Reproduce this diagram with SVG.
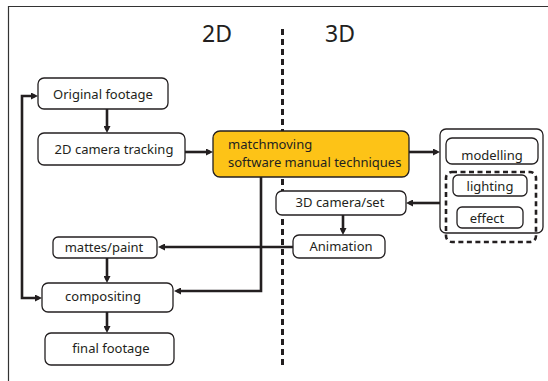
<svg xmlns="http://www.w3.org/2000/svg" width="548" height="381" viewBox="0 0 548 381">
  <defs>
    <marker id="arr" viewBox="0 0 7 7" refX="4" refY="3.5" markerWidth="7" markerHeight="7" markerUnits="userSpaceOnUse" orient="auto-start-reverse">
      <path d="M0,0 L7,3.5 L0,7 z" fill="#231f20"/>
    </marker>
    <style>
      .box { fill: #ffffff; stroke: #231f20; stroke-width: 1.3; }
      .hl { fill: #fdc317; stroke: #231f20; stroke-width: 1.3; }
      .t { font-family: "Noto Sans", "Liberation Sans", sans-serif; font-size: 13px; fill: #231f20; text-anchor: middle; }
      .tl { font-family: "Noto Sans", "Liberation Sans", sans-serif; font-size: 13px; fill: #231f20; }
      .h { font-family: "Noto Sans", "Liberation Sans", sans-serif; font-size: 23px; fill: #231f20; text-anchor: middle; }
      .c { fill: none; stroke: #231f20; stroke-width: 2.6; marker-end: url(#arr); }
      .dash { fill: none; stroke: #231f20; stroke-width: 3; stroke-dasharray: 6 4; }
    </style>
  </defs>
  <rect width="548" height="381" fill="#ffffff"/>
  <!-- frame -->
  <path d="M8.5 381 V6.5 H548" fill="none" stroke="#333" stroke-width="1.2"/>
  <!-- headings and divider -->
  <text class="h" x="217" y="42">2D</text>
  <text class="h" x="340" y="42">3D</text>
  <line class="dash" x1="282.5" y1="29" x2="282.5" y2="366"/>

  <g id="connectors">
    <line class="c" x1="107" y1="109" x2="107" y2="130"/>
    <line class="c" x1="185" y1="152" x2="210" y2="152"/>
    <line class="c" x1="409" y1="152" x2="437" y2="152"/>
    <line class="c" x1="440" y1="203" x2="409" y2="203"/>
    <line class="c" x1="343" y1="215" x2="343" y2="232"/>
    <line class="c" x1="293" y1="247" x2="161" y2="247"/>
    <path class="c" d="M261 177 V291 H177"/>
    <line class="c" x1="107" y1="258" x2="107" y2="280"/>
    <line class="c" x1="107" y1="312" x2="107" y2="330"/>
    <path class="c" d="M39 298 H22 V96 H35" marker-start="url(#arr)"/>
  </g>

  <g id="original-footage">
    <rect class="box" x="38" y="78" width="130" height="31" rx="6"/>
    <text class="t" x="103" y="99">Original footage</text>
  </g>
  <g id="camera-tracking">
    <rect class="box" x="38" y="133" width="147" height="32" rx="6"/>
    <text class="t" x="114" y="154">2D camera tracking</text>
  </g>
  <g id="matchmoving">
    <rect class="hl" x="213" y="131" width="196" height="46" rx="7"/>
    <text class="tl" x="228" y="149">matchmoving</text>
    <text class="tl" x="228" y="167">software manual techniques</text>
  </g>
  <g id="group-3d">
    <rect class="box" x="440" y="129" width="103" height="104" rx="6" stroke-width="1.5"/>
  </g>
  <g id="modelling">
    <rect class="box" x="446" y="138" width="92" height="26" rx="6"/>
    <text class="t" x="492" y="160">modelling</text>
  </g>
  <g id="lighting-effect">
    <rect x="446" y="172" width="90" height="70" rx="6" fill="none" stroke="#231f20" stroke-width="2.6" stroke-dasharray="5 3.5"/>
  </g>
  <g id="lighting">
    <rect class="box" x="453" y="175" width="74" height="21" rx="5"/>
    <text class="t" x="490" y="191">lighting</text>
  </g>
  <g id="effect">
    <rect class="box" x="457" y="207" width="66" height="21" rx="5"/>
    <text class="t" x="487" y="223">effect</text>
  </g>
  <g id="camera-set">
    <rect class="box" x="276" y="191" width="130" height="24" rx="6"/>
    <text class="t" x="340" y="207">3D camera/set</text>
  </g>
  <g id="animation">
    <rect class="box" x="293" y="235" width="92" height="23" rx="6"/>
    <text class="t" x="341" y="251">Animation</text>
  </g>
  <g id="mattes-paint">
    <rect class="box" x="53" y="237" width="104" height="21" rx="5"/>
    <text class="t" x="104" y="252">mattes/paint</text>
  </g>
  <g id="compositing">
    <rect class="box" x="42" y="283" width="131" height="29" rx="6"/>
    <text class="t" x="103" y="301">compositing</text>
  </g>
  <g id="final-footage">
    <rect class="box" x="45" y="333" width="129" height="32" rx="6"/>
    <text class="t" x="111" y="353">final footage</text>
  </g>
</svg>
